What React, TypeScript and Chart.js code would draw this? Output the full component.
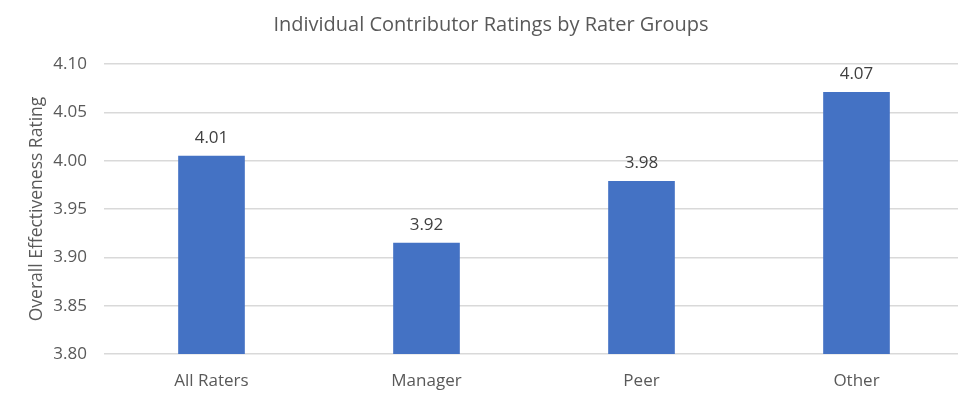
import { useEffect, useRef } from "react";
import { Chart, registerables } from "chart.js";

Chart.register(...registerables);

const categories: string[] = ["All Raters", "Manager", "Peer", "Other"];
const ratings: number[] = [4.005, 3.915, 3.979, 4.071];
const ratingLabels: string[] = ["4.01", "3.92", "3.98", "4.07"];
const chartTitle = "Individual Contributor Ratings by Rater Groups";

const FONT = "'Open Sans', 'Liberation Sans', sans-serif";
const TEXT = "#595959";

// draws the value above each bar, plus the chart title (Excel centres it a bit right)
const barLabels = {
  id: "barLabels",
  afterDatasetsDraw(chart: any) {
    const ctx = chart.ctx;
    const meta = chart.getDatasetMeta(0);
    ctx.save();
    ctx.font = `17px ${FONT}`;
    ctx.fillStyle = "#404040";
    ctx.textAlign = "center";
    ctx.textBaseline = "middle";
    meta.data.forEach((bar: any, i: number) => {
      ctx.fillText(ratingLabels[i], bar.x, bar.y - 18);
    });
    ctx.font = `20px ${FONT}`;
    ctx.fillStyle = TEXT;
    ctx.fillText(chartTitle, 491, 25);
    ctx.restore();
  },
};

const App: React.FC = () => {
  const chartRef = useRef<HTMLCanvasElement | null>(null);

  useEffect(() => {
    const myChart = new Chart(chartRef.current!, {
      type: "bar",
      data: {
        labels: categories,
        datasets: [
          {
            label: "Rating",
            data: ratings,
            backgroundColor: "#4472C4",
            barPercentage: 0.31,
            categoryPercentage: 1,
          },
        ],
      },
      options: {
        animation: false,
        responsive: true,
        maintainAspectRatio: false,
        layout: { padding: { left: 0, right: 2, top: 64, bottom: 0 } },
        plugins: {
          legend: { display: false },
          tooltip: { enabled: false },
          title: { display: false },
        },
        scales: {
          x: {
            grid: { display: false, drawTicks: false },
            border: { display: false },
            ticks: {
              color: TEXT,
              font: { family: FONT, size: 17 },
              padding: 17,
            },
            afterFit: (scale: any) => {
              scale.height = 49;
            },
          },
          y: {
            min: 3.8,
            max: 4.1,
            ticks: {
              stepSize: 0.05,
              color: TEXT,
              font: { family: FONT, size: 17 },
              padding: 17,
              callback: (v: any) => Number(v).toFixed(2),
            },
            grid: { color: "#d9d9d9", lineWidth: 1.5, drawTicks: false },
            border: { display: false },
            title: {
              display: true,
              text: "Overall Effectiveness Rating",
              color: TEXT,
              font: { family: FONT, size: 17.5 },
              padding: { top: 27, bottom: 0 },
            },
            afterFit: (scale: any) => {
              scale.width = 104;
            },
          },
        },
      },
      plugins: [barLabels],
    });

    return () => {
      myChart.destroy();
    };
  }, []);

  return (
    <div
      style={{
        position: "absolute",
        left: 0,
        top: 0,
        width: 958,
        height: 403,
        overflow: "hidden",
        background: "#fff",
      }}
    >
      <div style={{ position: "relative", width: 966, height: 403 }}>
        <canvas ref={chartRef} />
      </div>
    </div>
  );
};

export default App;
